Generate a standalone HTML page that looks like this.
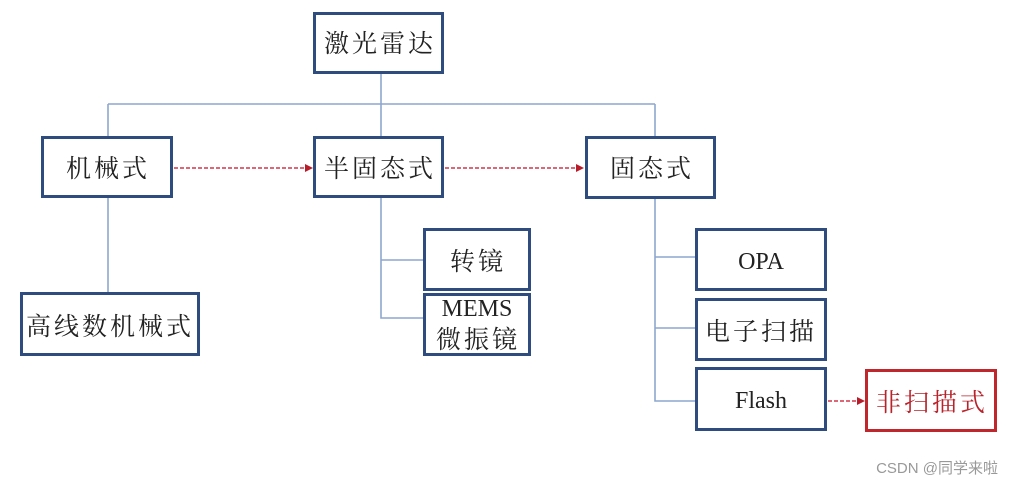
<!DOCTYPE html>
<html><head><meta charset="utf-8"><style>
html,body{margin:0;padding:0;background:#fff;}
svg{display:block}
text{font-family:"Noto Serif CJK SC","Liberation Serif",serif;fill:#222;}
</style></head><body>
<svg width="1013" height="484" viewBox="0 0 1013 484" xmlns="http://www.w3.org/2000/svg">
<defs>
<marker id="ah" markerWidth="8" markerHeight="8" refX="7" refY="4" orient="auto" markerUnits="userSpaceOnUse">
<path d="M0,0 L8,4 L0,8 z" fill="#b81c2a"/></marker>
</defs>
<g stroke="#8ea6cf" stroke-width="1.6" fill="none">
<path d="M381 72 V137"/>
<path d="M108 104 H655"/>
<path d="M108 104 V137"/>
<path d="M655 104 V137"/>
<path d="M108 197 V293"/>
<path d="M381 197 V318 H424"/>
<path d="M381 260 H424"/>
<path d="M655 198 V401 H696"/>
<path d="M655 257 H696"/>
<path d="M655 328 H696"/>
</g>
<g stroke="#d4354a" stroke-width="1.4" stroke-dasharray="4,2" fill="none" marker-end="url(#ah)">
<path d="M174 168 H312"/>
<path d="M445 168 H583"/>
<path d="M828 401 H864"/>
</g>
<g stroke="#2f4c7e" stroke-width="3" fill="#fff">
<rect x="314.5" y="13.5" width="128" height="59"/>
<rect x="42.5" y="137.5" width="129" height="59"/>
<rect x="314.5" y="137.5" width="128" height="59"/>
<rect x="586.5" y="137.5" width="128" height="60"/>
<rect x="21.5" y="293.5" width="177" height="61"/>
<rect x="424.5" y="229.5" width="105" height="60"/>
<rect x="424.5" y="294.5" width="105" height="60"/>
<rect x="696.5" y="229.5" width="129" height="60"/>
<rect x="696.5" y="299.5" width="129" height="60"/>
<rect x="696.5" y="368.5" width="129" height="61"/>
</g>
<rect x="866.5" y="370.5" width="129" height="60" stroke="#c0272d" stroke-width="3" fill="#fff"/>
<g font-size="25" text-anchor="middle" letter-spacing="3">
<text x="380" y="52">激光雷达</text>
<text x="108" y="177">机械式</text>
<text x="380" y="177">半固态式</text>
<text x="652" y="177">固态式</text>
<text x="110" y="335">高线数机械式</text>
<text x="478" y="270">转镜</text>
<text x="478" y="348">微振镜</text>
<text x="761" y="340">电子扫描</text>
<text x="932" y="411" style="fill:#b8232b">非扫描式</text>
</g>
<g font-size="24" text-anchor="middle" font-family="Liberation Serif, serif">
<text x="477" y="316" style="font-family:'Liberation Serif',serif">MEMS</text>
<text x="761" y="269" style="font-family:'Liberation Serif',serif">OPA</text>
<text x="761" y="408" style="font-family:'Liberation Serif',serif">Flash</text>
</g>
<text x="998" y="473" text-anchor="end" font-size="15" style="font-family:'Liberation Sans','Noto Sans CJK SC',sans-serif;fill:#999">CSDN @同学来啦</text>
</svg>
</body></html>
